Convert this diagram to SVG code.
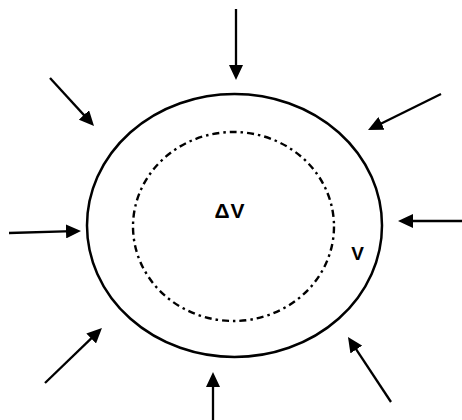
<svg xmlns="http://www.w3.org/2000/svg" width="462" height="420" viewBox="0 0 462 420">
<style>
.arrow{stroke:#000;stroke-width:2.3;fill:none;marker-end:url(#head)}
.outer{fill:none;stroke:#000;stroke-width:2.5}
.inner{fill:none;stroke:#000;stroke-width:2.4;stroke-dasharray:7 4 2.5 4}
.lbl{font-family:"Liberation Sans",Arial,sans-serif;font-weight:bold;fill:#000}
</style>
<defs>
<marker id="head" markerUnits="userSpaceOnUse" markerWidth="15" markerHeight="14" refX="7" refY="7" orient="auto">
<path d="M0,0 L15,7 L0,14 z" fill="#000"/>
</marker>
</defs>
<rect width="462" height="420" fill="#fff"/>
<g id="outer-volume"><ellipse class="outer" cx="234.5" cy="225.5" rx="147.5" ry="131.5"/></g>
<g id="inner-volume"><ellipse class="inner" cx="233.5" cy="226.5" rx="100.5" ry="94.5"/></g>
<g id="label-dv"><text class="lbl" x="230" y="218" font-size="21" letter-spacing="1" text-anchor="middle">ΔV</text></g>
<g id="label-v"><text class="lbl" x="357.5" y="260" font-size="19" text-anchor="middle">V</text></g>
<g id="connectors">
<line class="arrow" x1="236" y1="9" x2="236" y2="72"/>
<line class="arrow" x1="50" y1="78" x2="88.6" y2="120.1"/>
<line class="arrow" x1="441" y1="94" x2="375.2" y2="126.5"/>
<line class="arrow" x1="9" y1="233" x2="73" y2="231.2"/>
<line class="arrow" x1="462" y1="221" x2="406" y2="221"/>
<line class="arrow" x1="45" y1="383" x2="96.2" y2="333.6"/>
<line class="arrow" x1="213" y1="420" x2="213" y2="380"/>
<line class="arrow" x1="391" y1="402" x2="352.4" y2="343.7"/>
</g>
</svg>
